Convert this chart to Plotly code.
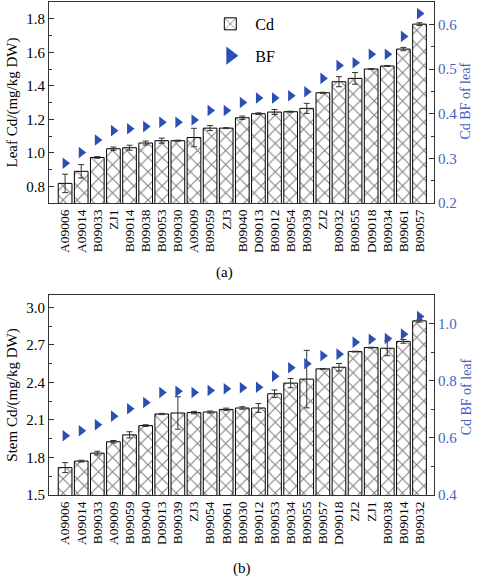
import plotly.graph_objects as go
from plotly.subplots import make_subplots

# ---------------- data (a) leaf ----------------
cats_a = ["A09006", "A09014", "B09033", "ZJ1", "B09014", "B09038", "B09053", "B09030",
          "A09009", "B09059", "ZJ3", "B09040", "D09013", "B09012", "B09054", "B09039",
          "ZJ2", "B09032", "B09055", "D09018", "B09034", "B09061", "B09057"]
cd_a = [0.817, 0.889, 0.972, 1.024, 1.030, 1.058, 1.072, 1.072, 1.091, 1.147, 1.147, 1.209,
        1.233, 1.243, 1.245, 1.265, 1.358, 1.424, 1.444, 1.500, 1.518, 1.619, 1.768]
cd_a_err = [0.055, 0.040, 0.005, 0.010, 0.015, 0.012, 0.015, 0.003, 0.055, 0.015, 0.003, 0.010,
            0.005, 0.015, 0.003, 0.030, 0.003, 0.030, 0.035, 0.002, 0.003, 0.010, 0.008]
bf_a = [0.289, 0.313, 0.341, 0.362, 0.366, 0.371, 0.381, 0.381, 0.386, 0.407, 0.407, 0.425,
        0.435, 0.435, 0.440, 0.449, 0.479, 0.508, 0.514, 0.533, 0.533, 0.573, 0.624]

# ---------------- data (b) stem ----------------
cats_b = ["A09006", "A09014", "B09033", "A09009", "B09059", "B09040", "D09013", "B09039",
          "ZJ3", "B09054", "B09061", "B09030", "B09012", "B09053", "B09034", "B09055",
          "B09057", "D09018", "ZJ2", "ZJ1", "B09038", "B09014", "B09032"]
cd_b = [1.719, 1.771, 1.835, 1.926, 1.981, 2.055, 2.148, 2.156, 2.159, 2.164, 2.185, 2.196,
        2.196, 2.310, 2.395, 2.427, 2.509, 2.522, 2.647, 2.679, 2.674, 2.729, 2.893]
cd_b_err = [0.040, 0.007, 0.015, 0.010, 0.025, 0.007, 0.005, 0.130, 0.010, 0.008, 0.010, 0.010,
            0.035, 0.030, 0.037, 0.230, 0.003, 0.030, 0.003, 0.003, 0.060, 0.015, 0.010]
bf_b = [0.607, 0.625, 0.646, 0.676, 0.702, 0.724, 0.759, 0.763, 0.759, 0.766, 0.772, 0.775,
        0.777, 0.816, 0.845, 0.859, 0.887, 0.893, 0.935, 0.945, 0.948, 0.963, 1.025]

FONT = "Liberation Serif, Times New Roman, serif"
BLUE = "#2b50b2"
AXBLUE = "#4565c0"

fig = make_subplots(rows=2, cols=1,
                    specs=[[{"secondary_y": True}], [{"secondary_y": True}]])

bar_marker = dict(color="white", line=dict(color="black", width=1),
                  pattern=dict(shape="x", fgcolor="black", bgcolor="white",
                               size=10, solidity=0.2))
err_style = dict(type="data", visible=True, color="#333333", thickness=1, width=3)

fig.add_trace(go.Bar(x=cats_a, y=cd_a, error_y=dict(array=cd_a_err, **err_style),
                     marker=bar_marker, width=0.85, name="Cd", legendgroup="cd"),
              row=1, col=1, secondary_y=False)
fig.add_trace(go.Scatter(x=cats_a, y=bf_a, mode="markers", showlegend=False,
                         marker=dict(symbol="triangle-right", size=10, color=BLUE)),
              row=1, col=1, secondary_y=True)
# legend-only entry for BF (larger symbol as in the reference legend)
fig.add_trace(go.Scatter(x=[None], y=[None], mode="markers", name="BF", legendgroup="bf",
                         marker=dict(symbol="triangle-right", size=16, color=BLUE)),
              row=1, col=1, secondary_y=True)

fig.add_trace(go.Bar(x=cats_b, y=cd_b, error_y=dict(array=cd_b_err, **err_style),
                     marker=bar_marker, width=0.85, showlegend=False),
              row=2, col=1, secondary_y=False)
fig.add_trace(go.Scatter(x=cats_b, y=bf_b, mode="markers", showlegend=False,
                         marker=dict(symbol="triangle-right", size=10, color=BLUE)),
              row=2, col=1, secondary_y=True)

tickfont = dict(family=FONT, size=15, color="black")
xcommon = dict(showline=True, linecolor="#333333", linewidth=1, mirror=True,
               tickangle=-90, tickfont=dict(family=FONT, size=13.5, color="black"),
               tickmode="linear", tick0=0, dtick=1,
               ticks="", showgrid=False, range=[-1, 22.9], domain=[0, 1], automargin=False)
ycommon = dict(showline=True, linecolor="#333333", linewidth=1, ticks="inside",
               ticklen=5, tickcolor="#333333", showgrid=False, zeroline=False, automargin=False)

DOM_A = [0.5923, 1.0]
DOM_B = [0.0, 0.4057]

fig.update_layout(
    width=480, height=578,
    margin=dict(l=49, r=46, t=2, b=83),
    plot_bgcolor="white", paper_bgcolor="white",
    font=dict(family=FONT, size=15, color="black"),
    xaxis=dict(**xcommon),
    xaxis2=dict(**xcommon),
    yaxis=dict(**ycommon, domain=DOM_A, range=[0.7, 1.9], dtick=0.2, tick0=0.8,
               tickformat=".1f", tickfont=tickfont,
               minor=dict(ticks="inside", ticklen=3, dtick=0.1, tickcolor="#333333"),
               title=dict(text="Leaf Cd/(mg/kg DW)", font=dict(family=FONT, size=15), standoff=4)),
    yaxis2=dict(**ycommon, range=[0.2, 0.65], dtick=0.1, tick0=0.2, tickformat=".1f",
                tickfont=dict(family=FONT, size=15, color=AXBLUE),
                minor=dict(ticks="inside", ticklen=3, dtick=0.05, tickcolor="#333333")),
    yaxis3=dict(**ycommon, domain=DOM_B, range=[1.5, 3.1], dtick=0.3, tick0=1.5,
                tickformat=".1f", tickfont=tickfont,
                minor=dict(ticks="inside", ticklen=3, dtick=0.15, tickcolor="#333333"),
                title=dict(text="Stem Cd/(mg/kg DW)", font=dict(family=FONT, size=15), standoff=4)),
    yaxis4=dict(**ycommon, range=[0.4, 1.1], dtick=0.2, tick0=0.4, tickformat=".1f",
                tickfont=dict(family=FONT, size=15, color=AXBLUE),
                minor=dict(ticks="inside", ticklen=3, dtick=0.1, tickcolor="#333333")),
    legend=dict(x=0.406, y=0.99, xanchor="left", yanchor="top", bgcolor="rgba(0,0,0,0)",
                font=dict(family=FONT, size=16), tracegroupgap=8, itemwidth=40),
    annotations=[
        dict(text="Cd BF of leaf", x=1.083, y=0.80, xref="paper", yref="paper",
             xanchor="center", yanchor="middle",
             textangle=-90, showarrow=False, font=dict(family=FONT, size=14, color=AXBLUE)),
        dict(text="Cd BF of leaf", x=1.083, y=0.20, xref="paper", yref="paper",
             xanchor="center", yanchor="middle",
             textangle=-90, showarrow=False, font=dict(family=FONT, size=14, color=AXBLUE)),
        dict(text="(a)", x=0.457, y=0.4523, xref="paper", yref="paper", showarrow=False,
             xanchor="center", yanchor="middle", font=dict(family=FONT, size=15)),
        dict(text="(b)", x=0.501, y=-0.150, xref="paper", yref="paper", showarrow=False,
             xanchor="center", yanchor="middle", font=dict(family=FONT, size=15)),
    ],
)

fig.write_html("out.html", config={"displayModeBar": False},
               post_script="document.body.style.margin='0';")
